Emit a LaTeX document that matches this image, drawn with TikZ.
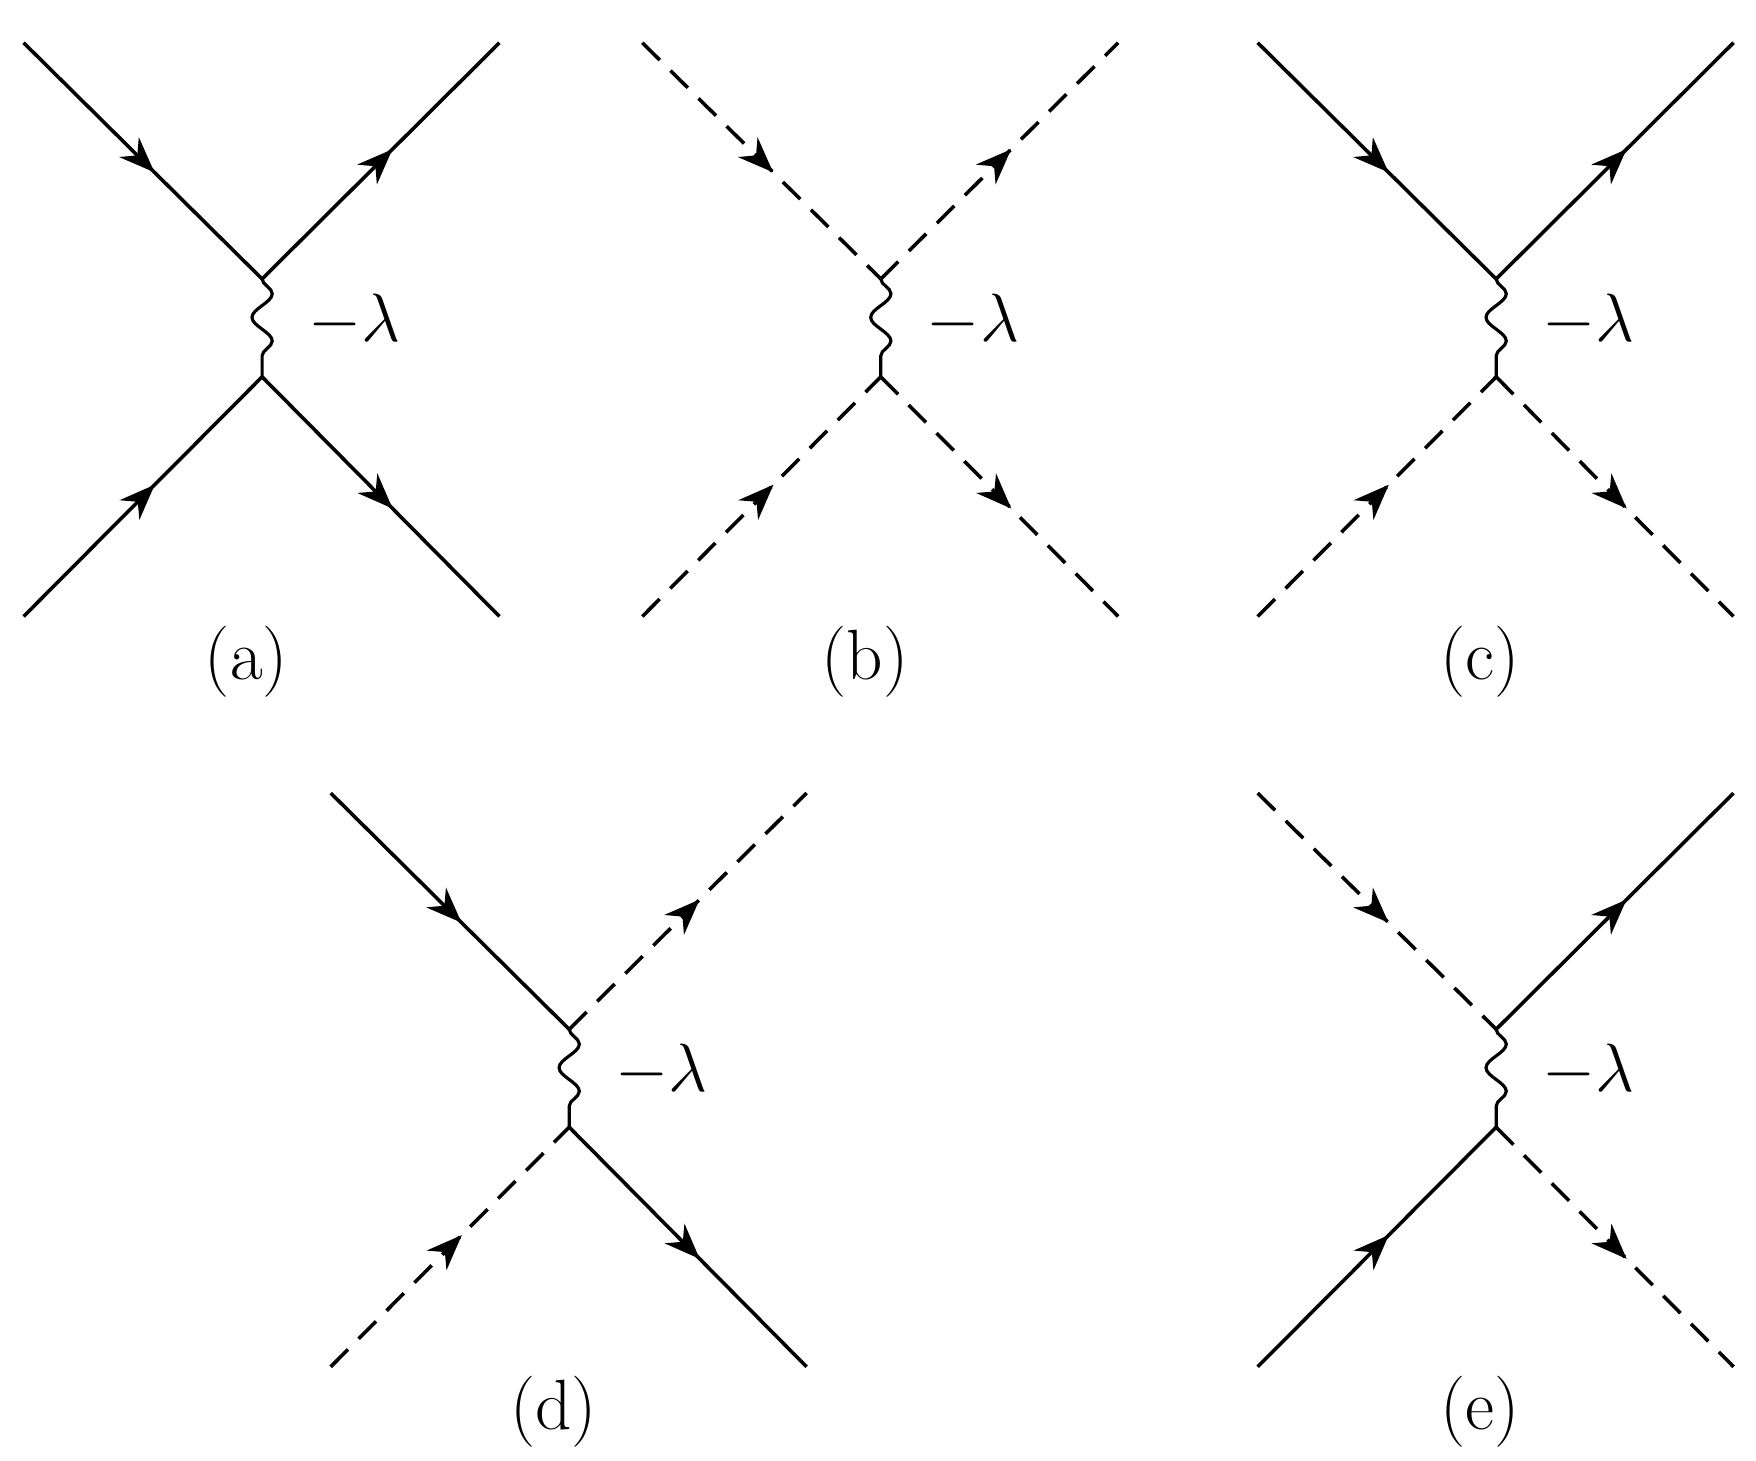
\documentclass[tikz,border=0pt]{standalone}
\usetikzlibrary{decorations.pathmorphing,decorations.markings,arrows.meta}
\tikzset{
  fermion/.style={line width=0.9pt,postaction={decorate},
    decoration={markings,mark=at position 0.55 with {\arrow[solid]{Stealth[length=9pt,width=7pt]}}}},
  scalar/.style={fermion,dash pattern=on 6.2pt off 3.8pt},
  coupling/.style={line width=0.8pt,decorate,
    decoration={snake,segment length=0.42cm,amplitude=0.09cm}},
  lbl/.style={font=\fontsize{18}{20}\selectfont}
}
% one vertex: name, x, y, then the styles of the four legs
\newcommand{\quartic}[8]{
  \coordinate (#1t) at (#2,#3-45);
  \coordinate (#1b) at (#2,#3+42);
  \coordinate (#1tl) at (#2-212,#3-255);
  \coordinate (#1tr) at (#2+211,#3-255);
  \coordinate (#1bl) at (#2-212,#3+255);
  \coordinate (#1br) at (#2+211,#3+255);
  \draw[#4] (#1tl) -- (#1t);
  \draw[#5] (#1t) -- (#1tr);
  \draw[#6] (#1bl) -- (#1b);
  \draw[#7] (#1b) -- (#1br);
  \draw[coupling] (#1t) -- (#1b);
  \node[lbl] (#1lam) at (#2+82,#3-8) {$-\lambda$};
  \node[lbl] (#1cap) at (#2-14,#3+295) {#8};
}
\begin{document}
\begin{tikzpicture}[x=0.01cm,y=-0.01cm]
  \useasboundingbox (0,0) rectangle (1561,1298);
  
  %top row
  \quartic{a}{233}{293}{fermion}{fermion}{fermion}{fermion}{(a)}
  \quartic{b}{783}{293}{scalar}{scalar}{scalar}{scalar}{(b)}
  \quartic{c}{1330}{293}{fermion}{fermion}{scalar}{scalar}{(c)}
  
  %bottom row
  \quartic{d}{506}{960}{fermion}{scalar}{scalar}{fermion}{(d)}
  \quartic{e}{1330}{960}{scalar}{fermion}{fermion}{scalar}{(e)}
\end{tikzpicture}
\end{document}
